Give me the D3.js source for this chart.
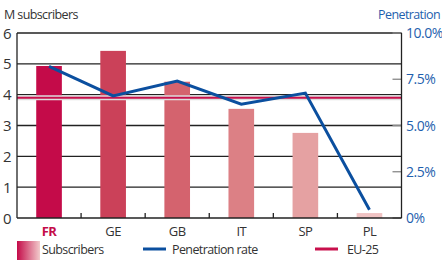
<!DOCTYPE html>
<html>
<head>
<meta charset="utf-8">
<style>
body { margin: 0; background: #fff; }
svg text { font-family: 'Open Sans', sans-serif; }
.grid line { stroke: #222; stroke-width: 1.3; }
.xlab { font-size: 13px; fill: #333; text-anchor: middle; letter-spacing: -0.5px; }
.ylab { font-size: 15px; fill: #333; letter-spacing: -0.5px; }
.rlab { font-size: 14px; fill: #1f5fae; letter-spacing: -0.5px; }
.leg { font-size: 12.5px; fill: #333; letter-spacing: -0.6px; }
</style>
</head>
<body>
<svg id="chart" width="442" height="261"></svg>
<script src="https://cdn.jsdelivr.net/npm/d3@7"></script>
<script>
const countries = ['FR', 'GE', 'GB', 'IT', 'SP', 'PL'];
const subscribers = [4.93, 5.42, 4.42, 3.54, 2.76, 0.16];
const penetration = [8.2, 6.6, 7.4, 6.15, 6.75, 0.45];
const barColors = ['#c40b49', '#cb4159', '#d4636e', '#dc8085', '#e5a1a2', '#f0c3c3'];
const eu25 = 3.9;
const leftTicks = [0, 1, 2, 3, 4, 5, 6];
const rightTicks = [0, 2.5, 5, 7.5, 10];

const svg = d3.select('#chart');
const plotLeft = 17, plotRight = 401.5, plotTop = 33, plotBottom = 218;

const x = d3.scaleBand().domain(countries).range([plotLeft, plotRight]).paddingInner(0).paddingOuter(0);
const y = d3.scaleLinear().domain([0, 6]).range([plotBottom, plotTop]);
const y2 = d3.scaleLinear().domain([0, 10]).range([plotBottom, plotTop]);

// gridlines
svg.append('g').attr('class', 'grid')
  .selectAll('line').data(leftTicks.slice(1)).join('line')
  .attr('x1', plotLeft).attr('x2', plotRight)
  .attr('y1', d => y(d)).attr('y2', d => y(d));

// right axis small ticks
svg.append('g').selectAll('line').data(rightTicks).join('line')
  .attr('x1', plotRight - 9).attr('x2', plotRight)
  .attr('y1', d => y2(d)).attr('y2', d => y2(d))
  .attr('stroke', '#888').attr('stroke-width', 1.3);

// bars
const bw = x.bandwidth() * 0.4;
svg.append('g').selectAll('rect').data(subscribers).join('rect')
  .attr('x', (d, i) => x(countries[i]) + (x.bandwidth() - bw) / 2)
  .attr('width', bw)
  .attr('y', d => y(d))
  .attr('height', d => plotBottom - y(d))
  .attr('fill', (d, i) => barColors[i]);

// EU-25 line
svg.append('line')
  .attr('x1', plotLeft).attr('x2', plotRight).attr('y1', y(eu25)).attr('y2', y(eu25))
  .attr('stroke', '#ddd').attr('stroke-width', 5);
svg.append('line')
  .attr('x1', plotLeft).attr('x2', plotRight).attr('y1', y(eu25)).attr('y2', y(eu25))
  .attr('stroke', '#c8104c').attr('stroke-width', 2.2);

// penetration line
const line = d3.line()
  .x((d, i) => x(countries[i]) + x.bandwidth() / 2)
  .y(d => y2(d));
svg.append('path').datum(penetration)
  .attr('d', line).attr('fill', 'none')
  .attr('stroke', '#0b4f9f').attr('stroke-width', 3);

// axes lines
svg.append('line').attr('x1', plotLeft).attr('x2', plotLeft).attr('y1', plotTop).attr('y2', plotBottom)
  .attr('stroke', '#222').attr('stroke-width', 1.3);
svg.append('line').attr('x1', plotRight).attr('x2', plotRight).attr('y1', plotTop).attr('y2', plotBottom)
  .attr('stroke', '#222').attr('stroke-width', 1.3);
svg.append('line').attr('x1', plotLeft).attr('x2', plotRight).attr('y1', plotBottom).attr('y2', plotBottom)
  .attr('stroke', '#222').attr('stroke-width', 1.3);

// x ticks between categories
svg.append('g').selectAll('line').data(countries.slice(1)).join('line')
  .attr('x1', d => x(d)).attr('x2', d => x(d))
  .attr('y1', plotBottom).attr('y2', plotBottom - 5)
  .attr('stroke', '#222').attr('stroke-width', 1.3);

// labels
svg.append('g').selectAll('text').data(countries).join('text')
  .attr('class', 'xlab')
  .attr('x', d => x(d) + x.bandwidth() / 2)
  .attr('y', 236)
  .style('fill', (d, i) => i === 0 ? '#c40b49' : null)
  .style('font-weight', (d, i) => i === 0 ? 'bold' : null)
  .text(d => d);

svg.append('g').selectAll('text').data(leftTicks).join('text')
  .attr('class', 'ylab')
  .attr('x', 3).attr('y', d => y(d) + 5.5)
  .text(d => d);

svg.append('g').selectAll('text').data(rightTicks).join('text')
  .attr('class', 'rlab')
  .attr('x', 406).attr('y', d => y2(d) + 5)
  .text(d => d === 0 ? '0%' : d.toFixed(1) + '%');

svg.append('text').attr('class', 'leg').attr('x', 4).attr('y', 19).text('M subscribers');
svg.append('text').attr('class', 'leg').attr('x', 440).attr('y', 19)
  .attr('text-anchor', 'end').style('fill', '#1f5fae').text('Penetration');

// legend
const grad = svg.append('defs').append('linearGradient').attr('id', 'lg');
grad.append('stop').attr('offset', '0%').attr('stop-color', barColors[0]);
grad.append('stop').attr('offset', '100%').attr('stop-color', '#f2cccc');
svg.append('rect').attr('x', 17).attr('y', 241).attr('width', 23).attr('height', 19).attr('fill', 'url(#lg)');
svg.append('text').attr('class', 'leg').attr('x', 42).attr('y', 254).text('Subscribers');

svg.append('line').attr('x1', 143).attr('x2', 166).attr('y1', 249).attr('y2', 249)
  .attr('stroke', '#0b4f9f').attr('stroke-width', 3);
svg.append('text').attr('class', 'leg').attr('x', 172).attr('y', 254).text('Penetration rate');

svg.append('line').attr('x1', 315).attr('x2', 338).attr('y1', 249).attr('y2', 249)
  .attr('stroke', '#c8104c').attr('stroke-width', 3);
svg.append('text').attr('class', 'leg').attr('x', 347).attr('y', 254).text('EU-25');
</script>
</body>
</html>
